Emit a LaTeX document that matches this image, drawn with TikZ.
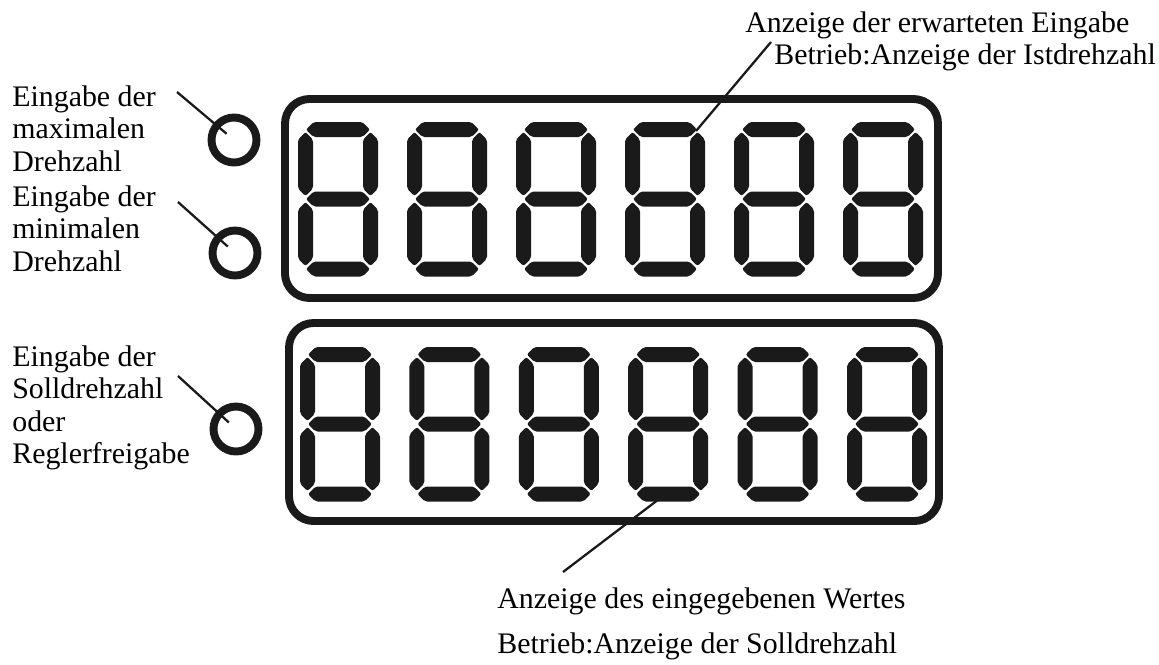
\documentclass[tikz,border=0pt]{standalone}
\usepackage{fontspec}
\setmainfont{Liberation Serif}
\usepackage{tikz}
\definecolor{inkdark}{HTML}{1a1a1a}

\tikzset{
  seg/.style={fill=inkdark, rounded corners=1.2pt},
  panel/.style={draw=inkdark, line width=4.5pt, rounded corners=14pt},
  led/.style={circle, draw=inkdark, line width=4.5pt, minimum size=0.9cm, inner sep=0pt},
  leader/.style={draw=inkdark, line width=1.3pt},
  lbl/.style={font=\fontsize{17}{18.5}\selectfont, inner sep=0pt, align=left},
}

% one seven-segment digit, #1/#2 = top left corner
\newcommand{\segdigit}[2]{%
  \foreach \yy in {7.5,77,147}
    \fill[seg] (#1+8,#2+\yy) -- (#1+15.5,#2+\yy-7.5) -- (#1+64.5,#2+\yy-7.5) -- (#1+72,#2+\yy)
      -- (#1+64.5,#2+\yy+7.5) -- (#1+15.5,#2+\yy+7.5) -- cycle;
  \foreach \xc in {7.5,72.5}
    \foreach \ya/\yb in {10/74,80/144}
      \fill[seg] (#1+\xc,#2+\ya) -- (#1+\xc+7.5,#2+\ya+7.5) -- (#1+\xc+7.5,#2+\yb-7.5) -- (#1+\xc,#2+\yb)
        -- (#1+\xc-7.5,#2+\yb-7.5) -- (#1+\xc-7.5,#2+\ya+7.5) -- cycle;
}

\begin{document}
\begin{tikzpicture}[x=0.02cm,y=-0.02cm]
  \useasboundingbox (0,0) rectangle (1159,664);
  % displays
  \draw[panel] (285,99) rectangle (938,298);
  \draw[panel] (289,323) rectangle (939,521);
  \foreach \i in {0,...,5} {
    \segdigit{298+109*\i}{122}
    \segdigit{300+109.4*\i}{347}
  }
  % leds
  \node[led] (ledmax) at (234,140) {};
  \node[led] (ledmin) at (235,253) {};
  \node[led] (ledsoll) at (236,429) {};
  % labels
  \node[lbl, anchor=north west] (lblmax) at (12,85) {Eingabe der\\maximalen\\Drehzahl};
  \node[lbl, anchor=north west] (lblmin) at (12,185) {Eingabe der\\minimalen\\Drehzahl};
  \node[lbl, anchor=north west] (lblsoll) at (12,345) {Eingabe der\\Solldrehzahl\\oder\\Reglerfreigabe};
  \node[lbl, anchor=west] (lblerw) at (745,25) {Anzeige der erwarteten Eingabe};
  \node[lbl, anchor=west] (lblist) at (774,57) {Betrieb:Anzeige der Istdrehzahl};
  \node[lbl, anchor=west] (lblwert) at (497,601) {Anzeige des eingegebenen Wertes};
  \node[lbl, anchor=west] (lblsolld) at (497,646) {Betrieb:Anzeige der Solldrehzahl};
  % leaders
  \coordinate (pmax) at (177,92);
  \coordinate (pmin) at (178,202);
  \coordinate (psoll) at (178,376);
  \coordinate (perw) at (696,131);
  \coordinate (pist) at (771,42);
  \coordinate (pwert) at (563,572);
  \coordinate (dsoll) at (663,496);
  \draw[leader, shorten >=5.5pt] (pmax) -- (ledmax.center);
  \draw[leader, shorten >=5.5pt] (pmin) -- (ledmin.center);
  \draw[leader, shorten >=5.5pt] (psoll) -- (ledsoll.center);
  \draw[leader] (perw) -- (pist);
  \draw[leader] (pwert) -- (dsoll);
\end{tikzpicture}
\end{document}
